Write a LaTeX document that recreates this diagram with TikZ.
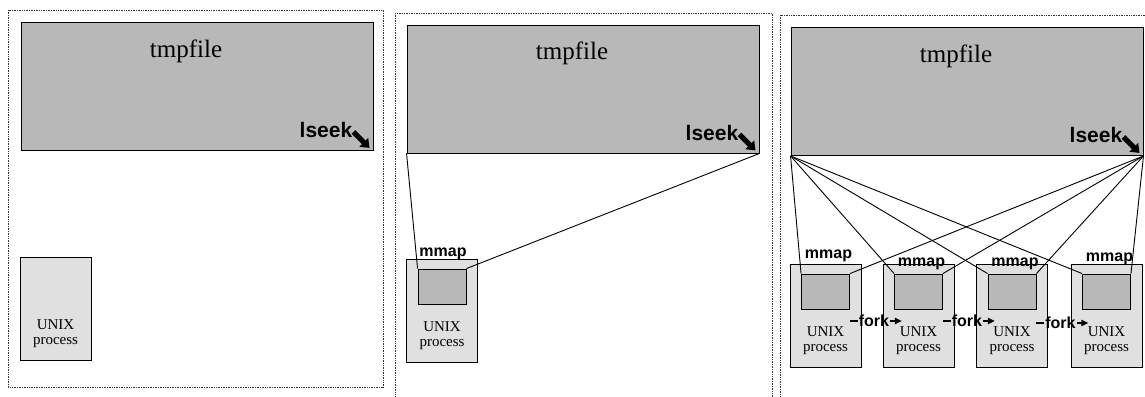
\documentclass[tikz,border=0pt]{standalone}
\usepackage{fontspec}
\setmainfont{Liberation Serif}
\setsansfont{Liberation Sans}
\usetikzlibrary{arrows.meta, calc}

\begin{document}
\begin{tikzpicture}[x=1pt, y=-1pt,
  frm/.style = {densely dotted, line width=0.7pt, black!80},
  fileblk/.style = {draw, fill=black!28, line width=0.9pt, minimum width=352pt, minimum height=128pt, inner sep=0pt},
  procblk/.style = {draw, fill=black!12, line width=0.9pt, minimum width=71pt, minimum height=103pt, inner sep=0pt},
  mapblk/.style = {draw, fill=black!28, line width=0.9pt, minimum width=48pt, minimum height=35pt, inner sep=0pt, anchor=north},
  fname/.style = {font=\fontsize{25}{25}\selectfont, inner sep=0pt},
  seek/.style = {font=\sffamily\bfseries\fontsize{21}{21}\selectfont, anchor=base east, inner sep=0pt},
  utxt/.style = {font=\fontsize{15}{15.5}\selectfont, align=center, inner sep=0pt},
  mlbl/.style = {font=\sffamily\bfseries\fontsize{16}{16}\selectfont, anchor=base, inner sep=0pt},
  flbl/.style = {font=\sffamily\bfseries\fontsize{16}{16}\selectfont, inner sep=1pt},
  conn/.style = {line width=0.9pt},
  seekarr/.style = {line width=5pt, -{Triangle[length=8pt,width=12pt]}},
  forkarr/.style = {line width=2pt, -{Triangle[length=7pt,width=6pt]}}]
\useasboundingbox (0,0) rectangle (1145,396);

% panel frames
\draw[frm] (8,10) rectangle (383,387);
\draw[frm] (395,13) rectangle (772,410);
\draw[frm] (780,15) rectangle (1160,410);

% the temporary file, one per panel
\foreach \i/\x/\y in {1/197/86.5, 2/583/89, 3/967/91.5}{
  \node[fileblk] (f\i) at (\x,\y) {};
  \node[fname] (t\i) at ([xshift=-11pt, yshift=-29pt]f\i.north) {tmpfile};
  \node[seek] (s\i) at ([xshift=-21pt, yshift=13pt]f\i.south east) {lseek};
  \draw[seekarr] ([xshift=1pt, yshift=6pt]s\i.base east) -- ([xshift=-4pt, yshift=3pt]f\i.south east);
}

% panel 1: process only
\node[procblk] (p0) at (55.5,308.5) {};
\node[utxt] (u0) at ([yshift=27pt]p0.south) {UNIX\\process};

% panel 2: one process with mapping
\node[procblk] (pa) at (442,310.5) {};
\node[mapblk] (ma) at ([yshift=-10pt]pa.north) {};
\node[utxt] (ua) at ([yshift=27pt]pa.south) {UNIX\\process};
\node[mlbl] (la) at (443,256) {mmap};
\draw[conn] (f2.south west) -- (ma.north west);
\draw[conn] (f2.south east) -- (ma.north east);

% panel 3: forked processes sharing the mapping
\foreach \j/\x/\ly in {1/825.5/258, 2/918.5/266, 3/1012/266, 4/1106.5/261}{
  \node[procblk] (p\j) at (\x,315.5) {};
  \node[mapblk] (m\j) at ([yshift=-10pt]p\j.north) {};
  \node[utxt] (u\j) at ([yshift=27pt]p\j.south) {UNIX\\process};
  \node[mlbl] (l\j) at (\x+3,\ly) {mmap};
}
\foreach \j in {1,...,4}{
  \draw[conn] (f3.south west) -- (m\j.north west);
  \draw[conn] (f3.south east) -- (m\j.north east);
}
\foreach \j/\y in {1/321, 2/321, 3/323}{
  \coordinate (fs\j) at (m\j.east |- 0,\y);
  \coordinate (fe\j) at ([xshift=52pt]fs\j);
  \node[flbl] (k\j) at ([xshift=24pt]fs\j) {fork};
  \draw[line width=2pt] (fs\j) -- (k\j.west);
  \draw[forkarr] (k\j.east) -- (fe\j);
}
\end{tikzpicture}
\end{document}
